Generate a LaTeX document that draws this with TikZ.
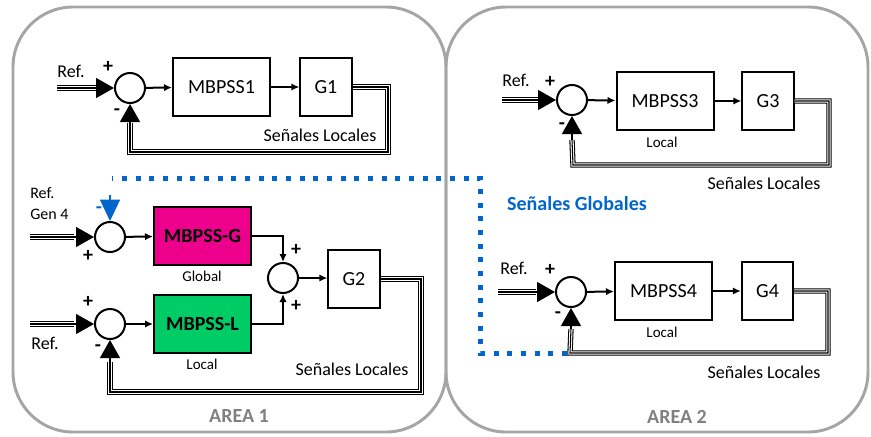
\documentclass[tikz,border=0pt]{standalone}
\usepackage{fontspec}
\setmainfont{Carlito}
\usetikzlibrary{arrows.meta,calc}
\definecolor{areagray}{RGB}{165,165,165}
\definecolor{areatext}{RGB}{128,128,128}
\definecolor{globalblue}{RGB}{0,102,204}
\definecolor{boxpink}{RGB}{236,0,140}
\definecolor{boxgreen}{RGB}{0,204,102}
\begin{document}
\begin{tikzpicture}[x=0.75pt,y=-0.75pt,
  area/.style={draw=areagray, line width=2.2pt, rounded corners=45pt},
  blk/.style={draw, line width=1.5pt, minimum width=72.75pt, minimum height=43pt,
    inner sep=0pt, font=\fontsize{15}{18}\selectfont},
  gblk/.style={blk, minimum width=38.5pt},
  sumc/.style={circle, draw, line width=1.5pt, minimum size=22.5pt, inner sep=0pt},
  sig/.style={line width=1.5pt, -{Latex[length=6pt,width=5.5pt]}},
  wire/.style={line width=1.5pt},
  bus/.style={line width=0.8pt, preaction={draw, line width=4pt},
    preaction={draw, white, line width=2.4pt}},
  bigtri/.style={line width=1pt, -{Triangle[length=13.5pt,width=15pt]}},
  bluetri/.style={globalblue, line width=1pt, -{Triangle[length=16pt,width=15pt]}},
  glob/.style={globalblue, line width=3.75pt, dash pattern=on 3.75pt off 6.5pt},
  lbl/.style={inner sep=0pt, font=\fontsize{13.5}{16}\selectfont},
  reflbl/.style={inner sep=0pt, font=\fontsize{12}{14}\selectfont},
  small/.style={inner sep=0pt, font=\fontsize{11.25}{13}\selectfont},
  sgn/.style={inner sep=0pt, font=\fontsize{15}{18}\selectfont\bfseries},
  areatitle/.style={inner sep=0pt, text=areatext, font=\fontsize{15}{18}\selectfont\bfseries},
]
\useasboundingbox (0,0) rectangle (871,436);

% area frames
\draw[area] (13,7) rectangle (446,432);
\draw[area] (446,7) rectangle (868,432);

% ---------- AREA 1, local loop of generator 1 ----------
\node[sumc] (s1) at (130,88) {};
\node[blk] (m1) at (221.5,87) {MBPSS1};
\node[gblk] (g1) at (326,87) {G1};
\draw[sig] (s1) -- (m1);
\draw[sig] (m1) -- (g1);
\coordinate (in1) at (57,88);
\draw[bus] (in1) -- ($(s1.west)+(-18,0)$);
\draw[bigtri] ($(s1.west)+(-18,0)$) -- (s1.west);
\draw[bus] (g1.east) -- (388,87) -- (388,152) -- (130,152) -- ($(s1.south)+(0,19)$);
\draw[bigtri] ($(s1.south)+(0,19)$) -- (s1.south);
\node[lbl] (r1) at (71,71) {Ref.};
\node[sgn] (p1) at (108,67) {+};
\node[sgn] (n1) at (117,112) {-};
\node[lbl] (sl1) at (320,135) {Señales Locales};

% ---------- AREA 1, global and local loops of generator 2 ----------
\node[sumc] (sa) at (110,237) {};
\node[blk, fill=boxpink] (mg) at (202.5,236) {\bfseries MBPSS-G};
\node[sumc] (sb) at (110,324) {};
\node[blk, fill=boxgreen] (ml) at (202.5,324) {\bfseries MBPSS-L};
\node[sumc] (c2) at (283,278) {};
\node[gblk] (g2) at (354,279) {G2};
\draw[sig] (sa) -- (mg);
\draw[sig] (sb) -- (ml);
\draw[sig] (mg.east) -| (c2.north);
\draw[sig] (ml.east) -| (c2.south);
\draw[sig] (c2) -- (g2.west |- c2);
\draw[bus] (30,237) -- ($(sa.west)+(-20,0)$);
\draw[bigtri] ($(sa.west)+(-20,0)$) -- (sa.west);
\draw[bus] (30,324) -- ($(sb.west)+(-20,0)$);
\draw[bigtri] ($(sb.west)+(-20,0)$) -- (sb.west);
\draw[bus] (g2.east) -- (421,279) -- (421,392) -- (110,392) -- ($(sb.south)+(0,22)$);
\draw[bigtri] ($(sb.south)+(0,22)$) -- (sb.south);
\node[reflbl, anchor=west] (r2a) at (30,193) {Ref.};
\node[reflbl, anchor=west] (r2b) at (30,214) {Gen 4};
\node[lbl] (r2c) at (45,343) {Ref.};
\node[sgn, text=globalblue] (n2a) at (99,210) {-};
\node[sgn] (p2a) at (88,256) {+};
\node[sgn] (p2b) at (88,302) {+};
\node[sgn] (n2b) at (98,348) {-};
\node[sgn] (p2c) at (296,250) {+};
\node[sgn] (p2d) at (296,306) {+};
\node[small] (gl) at (202,276) {Global};
\node[small] (lo2) at (202,364) {Local};
\node[lbl] (sl2) at (352,369) {Señales Locales};
\node[areatitle] (a1) at (239,416) {AREA 1};

% ---------- AREA 2, generator 3 ----------
\node[sumc] (s3) at (572,100) {};
\node[blk] (m3) at (665,101) {MBPSS3};
\node[gblk] (g3) at (768,101) {G3};
\draw[sig] (s3) -- (m3);
\draw[sig] (m3) -- (g3);
\draw[bus] (502,100) -- ($(s3.west)+(-18,0)$);
\draw[bigtri] ($(s3.west)+(-18,0)$) -- (s3.west);
\draw[bus] (g3.east) -- (829,101) -- (829,165) -- (573,165) -- ($(s3.south)+(0,24)$);
\draw[bigtri] ($(s3.south)+(0,24)$) -- (s3.south);
\node[lbl] (r3) at (516,80) {Ref.};
\node[sgn] (p3) at (550,82) {+};
\node[sgn] (n3) at (562,126) {-};
\node[small] (lo3) at (662,142) {Local};
\node[lbl] (sl3) at (764,183) {Señales Locales};

% ---------- AREA 2, generator 4 ----------
\node[sumc] (s4) at (571,292) {};
\node[blk] (m4) at (663.5,291) {MBPSS4};
\node[gblk] (g4) at (767.5,291) {G4};
\draw[sig] (s4) -- (m4);
\draw[sig] (m4) -- (g4);
\draw[bus] (498,292) -- ($(s4.west)+(-19,0)$);
\draw[bigtri] ($(s4.west)+(-19,0)$) -- (s4.west);
\draw[bus] (g4.east) -- (828,291) -- (828,353) -- (570,353) -- ($(s4.south)+(0,21)$);
\draw[bigtri] ($(s4.south)+(0,21)$) -- (s4.south);
\node[lbl] (r4) at (514,268) {Ref.};
\node[sgn] (p4) at (550,270) {+};
\node[sgn] (n4) at (558,315) {-};
\node[small] (lo4) at (662,332) {Local};
\node[lbl] (sl4) at (764,372) {Señales Locales};
\node[areatitle] (a2) at (677,417) {AREA 2};

% ---------- global signal from generator 4 to generator 2 ----------
\coordinate (gs) at (567,353);
\draw[glob] (gs) -- (480,353) -- (480,178) -- (112,178);
\draw[bluetri] ($(sa.north)+(0,-26)$) -- (sa.north);
\node[inner sep=0pt, text=globalblue, font=\fontsize{15}{18}\selectfont\bfseries] (sg) at (577,204) {Señales Globales};
\end{tikzpicture}
\end{document}
